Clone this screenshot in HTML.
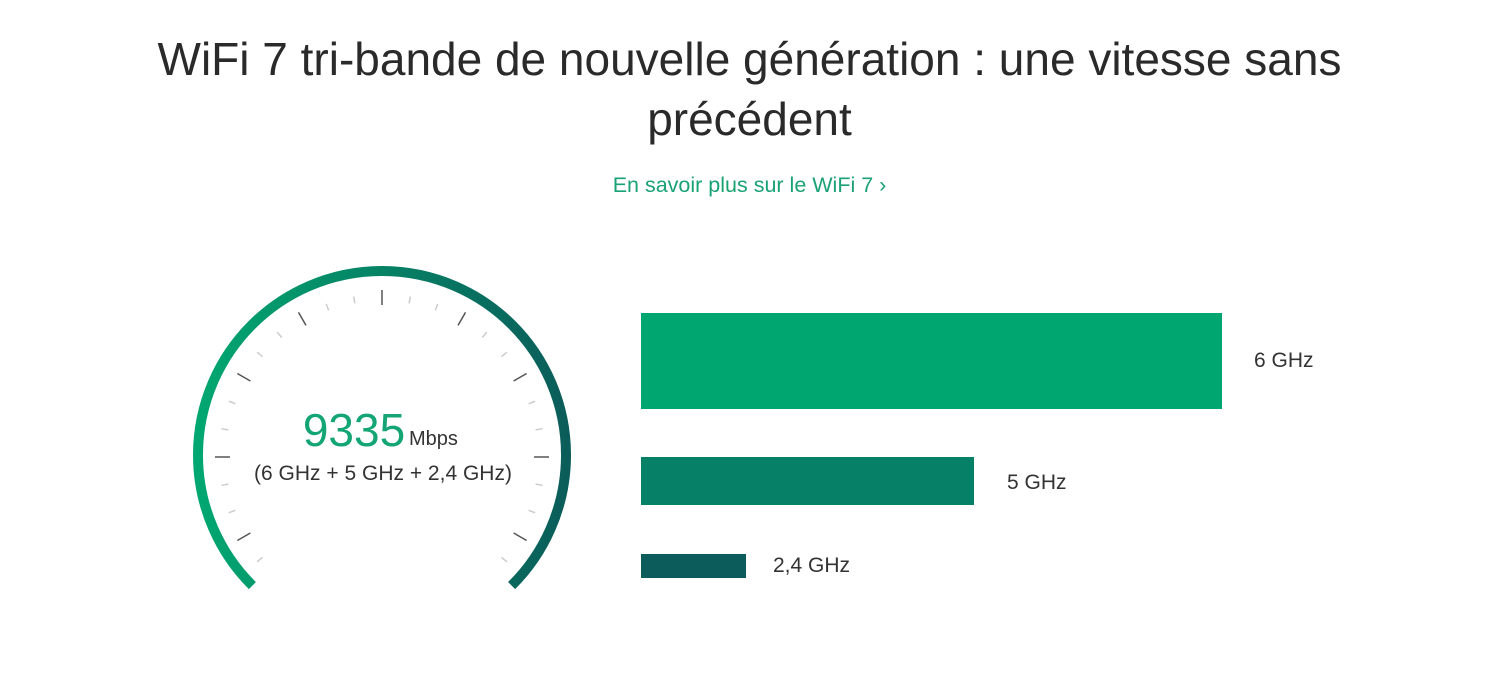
<!DOCTYPE html>
<html><head><meta charset="utf-8"><style>
body{margin:0;width:1499px;height:686px;background:#fff;font-family:"Liberation Sans",sans-serif;position:relative;overflow:hidden}
.t{position:absolute;left:0;width:1499px;text-align:center;color:#2a2a2a;font-size:46px;font-weight:normal;line-height:60px}
.lk{position:absolute;left:0;width:1499px;text-align:center;top:173px;font-size:21.5px;color:#1ba273}
.bar{position:absolute;left:641px}
.lb{position:absolute;font-size:21px;color:#333;line-height:24px}
</style></head><body>
<div class="t" style="top:29px">WiFi 7 tri-bande de nouvelle génération : une vitesse sans</div>
<div class="t" style="top:89px">précédent</div>
<div class="lk">En savoir plus sur le WiFi 7 ›</div>
<svg width="1499" height="686" style="position:absolute;left:0;top:0">
<defs><linearGradient id="g" x1="193" y1="0" x2="571" y2="0" gradientUnits="userSpaceOnUse"><stop offset="0" stop-color="#00a870"/><stop offset="1" stop-color="#0b5c5a"/></linearGradient></defs>
<path d="M252.4,585.6 A184,184 0 1 1 511.6,585.6" fill="none" stroke="url(#g)" stroke-width="10"/>
<g id="ticks"></g>
<text x="354" y="446" text-anchor="middle" font-size="46" fill="#14a574" font-family="Liberation Sans,sans-serif">9335</text>
<text x="409" y="445" font-size="20" fill="#333" font-family="Liberation Sans,sans-serif">Mbps</text>
<text x="383" y="480" text-anchor="middle" font-size="21" fill="#333" font-family="Liberation Sans,sans-serif">(6 GHz + 5 GHz + 2,4 GHz)</text>
</svg>
<script>
var g=document.getElementById('ticks'),s='';
for(var a=-40;a<=220;a+=10){var r=a*Math.PI/180,maj=((a+30)%30===0);var r1=maj?152:156,r2=maj?167:163;
var cx=382,cy=457;s+='<line x1="'+(cx+r1*Math.cos(r))+'" y1="'+(cy-r1*Math.sin(r))+'" x2="'+(cx+r2*Math.cos(r))+'" y2="'+(cy-r2*Math.sin(r))+'" stroke="'+(maj?'#555':'#ccc')+'" stroke-width="1.5"/>';}
g.innerHTML=s;
</script>
<div class="bar" style="top:313px;width:581px;height:96px;background:#00a66f"></div>
<div class="bar" style="top:457px;width:333px;height:48px;background:#078068"></div>
<div class="bar" style="top:554px;width:105px;height:24px;background:#0b5c5b"></div>
<div class="lb" style="left:1254px;top:349px">6 GHz</div>
<div class="lb" style="left:1007px;top:471px">5 GHz</div>
<div class="lb" style="left:773px;top:554px">2,4 GHz</div>
</body></html>
